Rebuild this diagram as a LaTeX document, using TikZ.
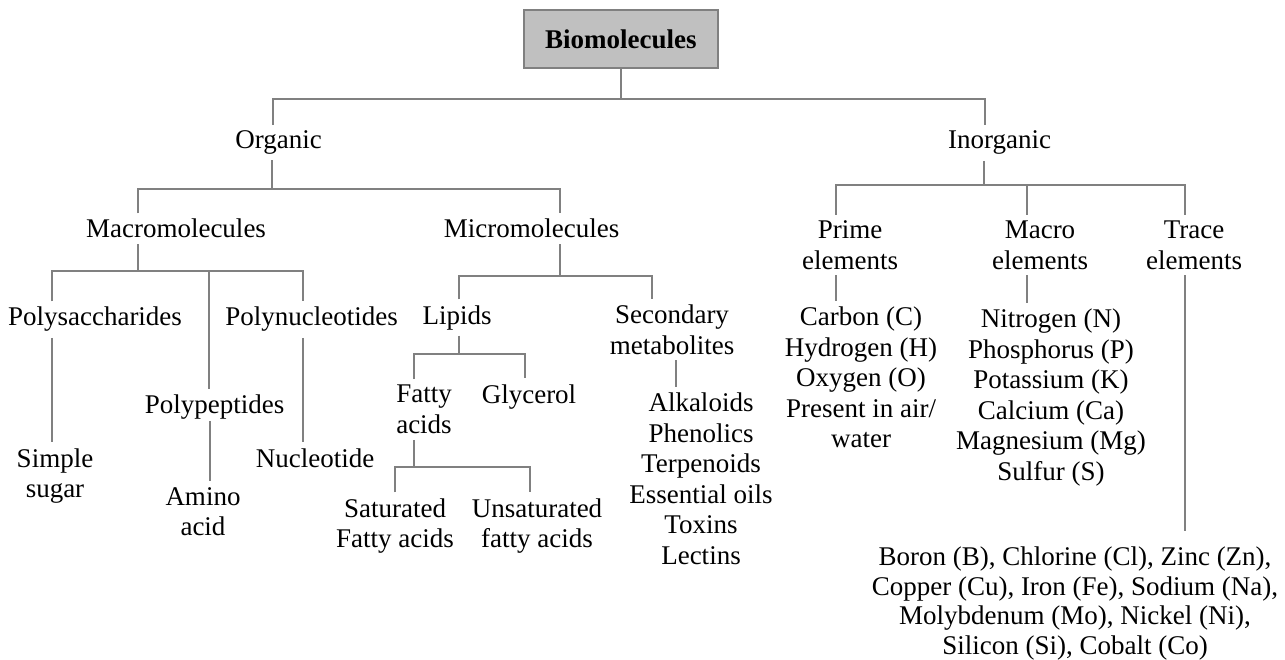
\documentclass[tikz,border=0pt]{standalone}
\usepackage{fontspec}
\setmainfont{Liberation Serif}
\definecolor{linegray}{RGB}{128,128,128}
\definecolor{boxfill}{RGB}{192,192,192}
\begin{document}
\begin{tikzpicture}[x=1pt,y=-1pt,
  lbl/.style={font=\fontsize{27pt}{30.6pt}\selectfont, inner sep=0pt, outer xsep=0pt, outer ysep=6pt, align=center},
  lbltight/.style={lbl, font=\fontsize{27pt}{29.5pt}\selectfont},
  conn/.style={draw=linegray, line width=2pt},
  rootbox/.style={draw=linegray, line width=2pt, fill=boxfill, minimum width=193.5pt, minimum height=58.3pt, inner sep=0pt, outer sep=0pt, font=\fontsize{27pt}{30.6pt}\selectfont\bfseries}
]
\useasboundingbox (0,0) rectangle (1285,660);

% nodes
\node[rootbox] (bio) at (620.75,39.2) {Biomolecules};
\node[lbl,anchor=base] (org) at (278.7,148.5) {Organic};
\node[lbl,anchor=base] (inorg) at (999.5,149) {Inorganic};
\node[lbl,anchor=base] (macro) at (176,238) {Macromolecules};
\node[lbl,anchor=base] (micro) at (531.5,238) {Micromolecules};
\node[lbl] (prime) at (850,245) {Prime\\elements};
\node[lbl] (macroel) at (1040,245) {Macro\\elements};
\node[lbl] (trace) at (1194,245) {Trace\\elements};
\node[lbl,anchor=base] (polys) at (95,326) {Polysaccharides};
\node[lbl,anchor=base] (polyn) at (311.5,326) {Polynucleotides};
\node[lbl,anchor=base] (lipids) at (457,324) {Lipids};
\node[lbl] (second) at (672,329.5) {Secondary\\metabolites};
\node[lbl] (carbon) at (861,377.4) {Carbon (C)\\Hydrogen (H)\\Oxygen (O)\\Present in air/\\water};
\node[lbl] (nitro) at (1051,397.6) {Nitrogen (N)\\Phosphorus (P)\\Potassium (K)\\Calcium (Ca)\\Magnesium (Mg)\\Sulfur (S)};
\node[lbl,anchor=base] (polypep) at (214.5,413.5) {Polypeptides};
\node[lbl] (fatty) at (424,409.5) {Fatty\\acids};
\node[lbl,anchor=base] (glyc) at (529,403) {Glycerol};
\node[lbl] (alk) at (701,478.7) {Alkaloids\\Phenolics\\Terpenoids\\Essential oils\\Toxins\\Lectins};
\node[lbl] (simple) at (55,475.9) {Simple\\sugar};
\node[lbl,anchor=base] (nucl) at (315,467) {Nucleotide};
\node[lbl] (amino) at (203,511.6) {Amino\\acid};
\node[lbl] (sat) at (395,525.9) {Saturated\\Fatty acids};
\node[lbl] (unsat) at (537,525.9) {Unsaturated\\fatty acids};
\node[lbltight] (tracel) at (1075,603.3) {Boron (B), Chlorine (Cl), Zinc (Zn),\\Copper (Cu), Iron (Fe), Sodium (Na),\\Molybdenum (Mo), Nickel (Ni),\\Silicon (Si), Cobalt (Co)};

% junctions
\coordinate (j1) at (620.75,99);
\coordinate (j2) at (272,189.5);
\coordinate (j3) at (137.6,271.5);
\coordinate (j4) at (559.5,276);
\coordinate (j5) at (459,354);
\coordinate (j6) at (414,467);
\coordinate (j7) at (984,185);

% connectors
\draw[conn] (bio.south) -- (j1);
\draw[conn] (org.north -| 273,0) |- (j1) -| (inorg.north -| 985,0);

\draw[conn] (org.south -| j2) -- (j2);
\draw[conn] (macro.north -| 137.6,0) |- (j2) -| (micro.north -| 560,0);

\draw[conn] (macro.south -| j3) -- (j3);
\draw[conn] (polys.north -| 52,0) |- (j3) -| (polyn.north -| 303,0);
\draw[conn] (polypep.north -| 209,0) |- (j3);

\draw[conn] (micro.south -| j4) -- (j4);
\draw[conn] (lipids.north -| 459,0) |- (j4) -| (second.north -| 651.5,0);

\draw[conn] (lipids.south -| j5) -- (j5);
\draw[conn] (fatty.north -| 414,0) |- (j5) -| (glyc.north -| 525,0);

\draw[conn] (fatty.south -| j6) -- (j6);
\draw[conn] (sat.north -| 395,0) |- (j6) -| (unsat.north -| 530,0);

\draw[conn] (second.south -| 676,0) -- (alk.north -| 676,0);
\draw[conn] (polys.south -| 52,0) -- (simple.north -| 52,0);
\draw[conn, shorten <=-4.5pt] (polypep.south -| 209.5,0) -- (amino.north -| 209.5,0);
\draw[conn] (polyn.south -| 303,0) -- (nucl.north -| 303,0);

\draw[conn] (inorg.south -| j7) -- (j7);
\draw[conn] (prime.north -| 836,0) |- (j7) -| (trace.north -| 1185,0);
\draw[conn] (macroel.north -| 1027,0) |- (j7);
\draw[conn] (prime.south -| 836,0) -- (carbon.north -| 836,0);
\draw[conn] (macroel.south -| 1027,0) -- (nitro.north -| 1027,0);
\draw[conn, shorten >=10pt] (trace.south -| 1185,0) -- (tracel.north -| 1185,0);
\end{tikzpicture}
\end{document}
